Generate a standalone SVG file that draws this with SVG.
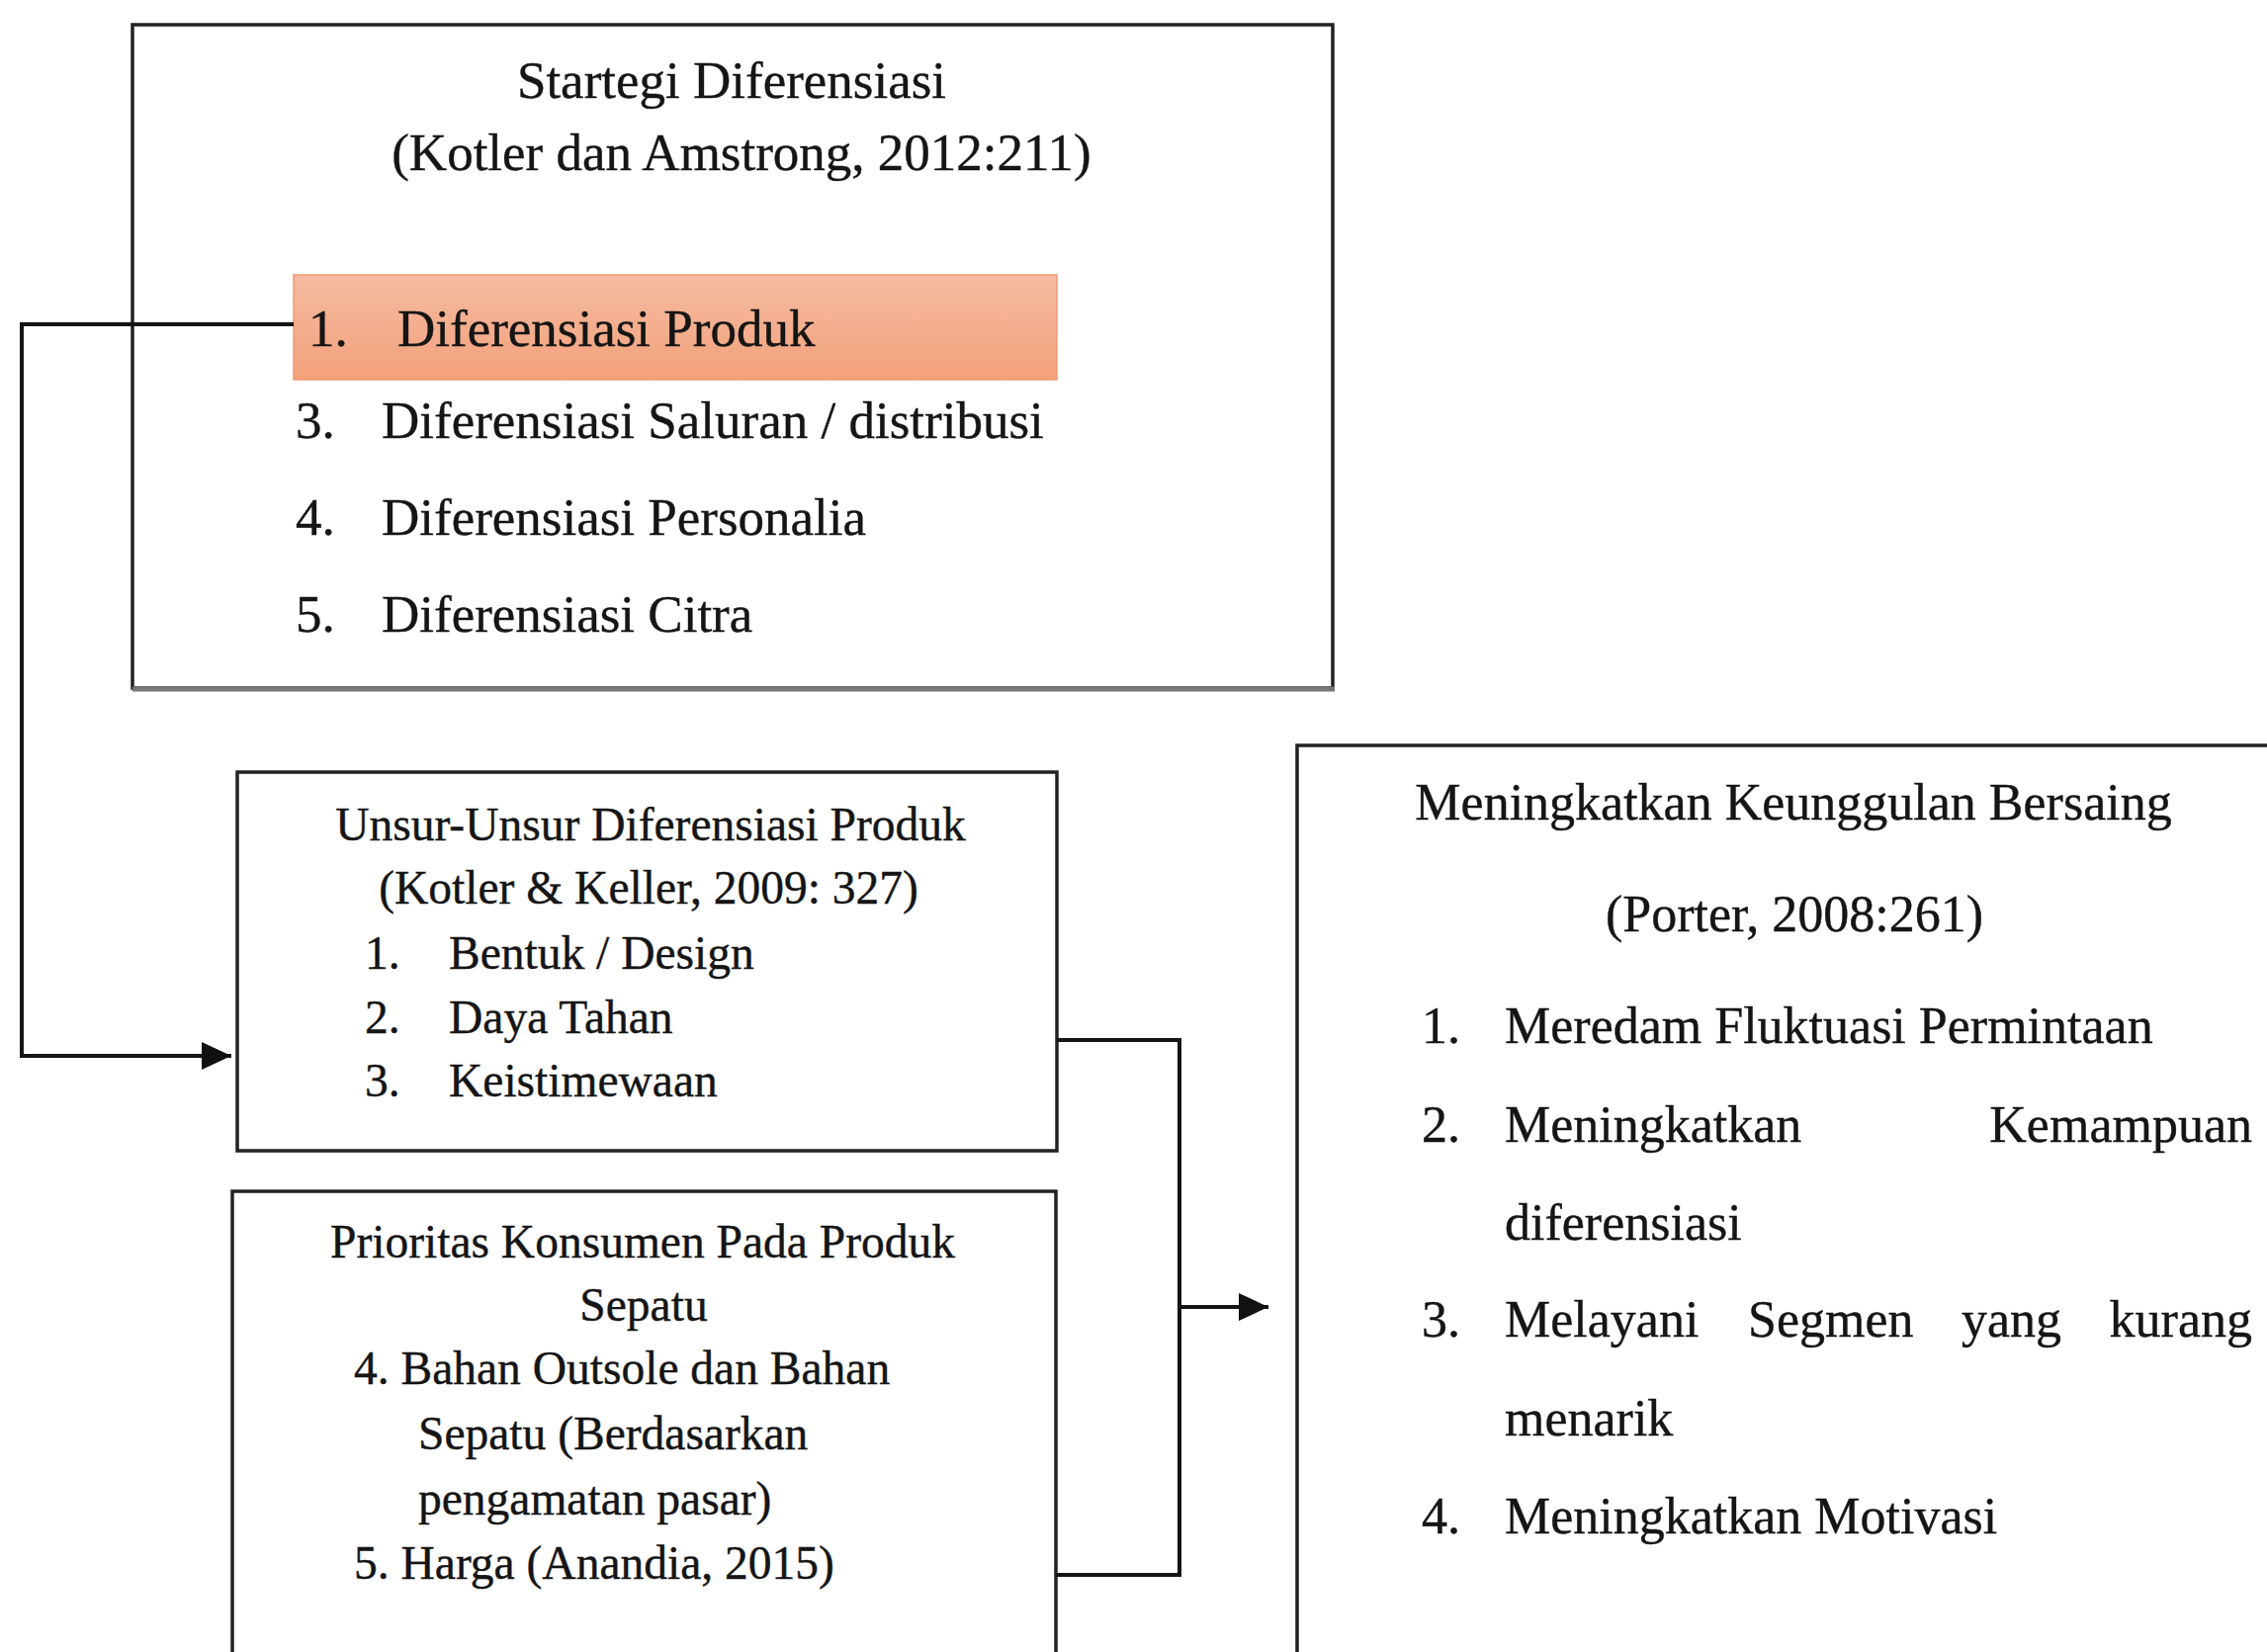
<svg xmlns="http://www.w3.org/2000/svg" width="2293" height="1671" viewBox="0 0 2293 1671">
<defs>
<linearGradient id="orange" x1="0" y1="0" x2="0" y2="1">
<stop offset="0" stop-color="#f5bba2"/>
<stop offset="1" stop-color="#f3a17a"/>
</linearGradient>
<marker id="arr" markerUnits="userSpaceOnUse" markerWidth="32" markerHeight="30" refX="30" refY="15" orient="auto">
<path d="M0,1 L30,15 L0,29 z" fill="#111"/>
</marker>
<style>
.box{fill:#fff;stroke:#222;stroke-width:3.5}
.t{font-family:"Liberation Serif","Times New Roman",serif;fill:#151515;stroke:#151515;stroke-width:0.4}
.s53{font-size:53px}
.s47{font-size:47.5px}
.s52{font-size:52px}
.c{text-anchor:middle}
.con{fill:none;stroke:#151515;stroke-width:4}
</style>
</defs>
<rect width="2293" height="1671" fill="#fff"/>

<g id="node-strategi">
<rect class="box" x="134" y="25" width="1214" height="671"/>
<line x1="134" y1="697" x2="1350" y2="697" stroke="#777" stroke-width="5"/>
<text class="t s53 c" x="740" y="99">Startegi Diferensiasi</text>
<text class="t s53 c" x="750" y="172">(Kotler dan Amstrong, 2012:211)</text>
<rect x="297" y="278" width="772" height="106" fill="url(#orange)" stroke="#ee9a74" stroke-width="1.5"/>
<text class="t s53" x="312" y="350">1.</text>
<text class="t s53" x="402" y="350">Diferensiasi Produk</text>
<text class="t s53" x="299" y="443">3.</text>
<text class="t s53" x="386" y="443">Diferensiasi Saluran / distribusi</text>
<text class="t s53" x="299" y="541">4.</text>
<text class="t s53" x="386" y="541">Diferensiasi Personalia</text>
<text class="t s53" x="299" y="639">5.</text>
<text class="t s53" x="386" y="639">Diferensiasi Citra</text>
</g>

<g id="node-unsur">
<rect class="box" x="240" y="781" width="829" height="383"/>
<text class="t s47 c" x="658" y="850">Unsur-Unsur Diferensiasi Produk</text>
<text class="t s47 c" x="656" y="914">(Kotler &amp; Keller, 2009: 327)</text>
<text class="t s47" x="369" y="980">1.</text>
<text class="t s47" x="454" y="980">Bentuk / Design</text>
<text class="t s47" x="369" y="1045">2.</text>
<text class="t s47" x="454" y="1045">Daya Tahan</text>
<text class="t s47" x="369" y="1109">3.</text>
<text class="t s47" x="454" y="1109">Keistimewaan</text>
</g>

<g id="node-prioritas">
<rect class="box" x="235" y="1205" width="833" height="490"/>
<text class="t s47 c" x="650" y="1272">Prioritas Konsumen Pada Produk</text>
<text class="t s47 c" x="651" y="1336">Sepatu</text>
<text class="t s47" x="358" y="1400">4. Bahan Outsole dan Bahan</text>
<text class="t s47" x="423" y="1466">Sepatu (Berdasarkan</text>
<text class="t s47" x="423" y="1532">pengamatan pasar)</text>
<text class="t s47" x="358" y="1597">5. Harga (Anandia, 2015)</text>
</g>

<g id="node-keunggulan">
<rect class="box" x="1312" y="754" width="1010" height="940"/>
<text class="t s52 c" x="1814" y="829">Meningkatkan Keunggulan Bersaing</text>
<text class="t s52 c" x="1815" y="942">(Porter, 2008:261)</text>
<text class="t s52" x="1438" y="1055">1.</text>
<text class="t s52" x="1522" y="1055">Meredam Fluktuasi Permintaan</text>
<text class="t s52" x="1438" y="1155">2.</text>
<text class="t s52" x="1522" y="1155">Meningkatkan</text>
<text class="t s52" x="2278" y="1155" text-anchor="end">Kemampuan</text>
<text class="t s52" x="1522" y="1254">diferensiasi</text>
<text class="t s52" x="1438" y="1352">3.</text>
<text class="t s52" x="1522" y="1352">Melayani</text>
<text class="t s52" x="1768" y="1352">Segmen</text>
<text class="t s52" x="1984" y="1352">yang</text>
<text class="t s52" x="2278" y="1352" text-anchor="end">kurang</text>
<text class="t s52" x="1522" y="1452">menarik</text>
<text class="t s52" x="1438" y="1551">4.</text>
<text class="t s52" x="1522" y="1551">Meningkatkan Motivasi</text>
</g>

<g id="connectors">
<path class="con" d="M297,328 H22 V1068 H234" marker-end="url(#arr)"/>
<path class="con" d="M1069,1052 H1193 V1593 H1068"/>
<path class="con" d="M1193,1322 H1283" marker-end="url(#arr)"/>
</g>
</svg>
